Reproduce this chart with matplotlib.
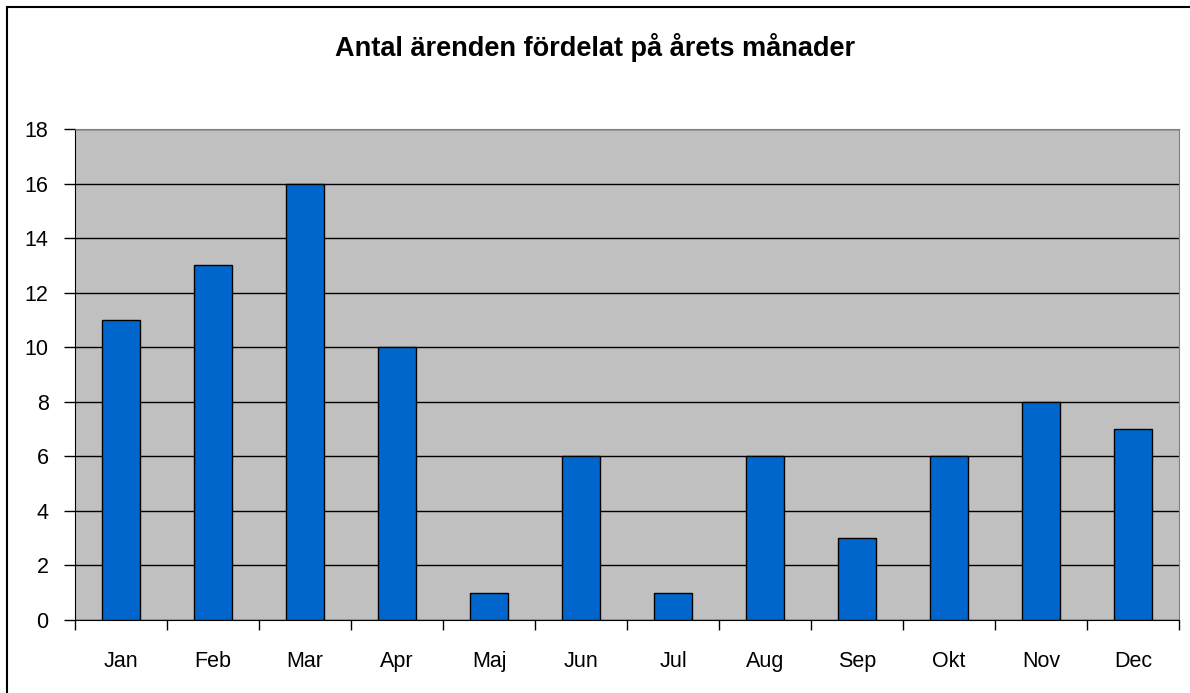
import numpy as np
import matplotlib.pyplot as plt
from matplotlib.patches import Rectangle

# data
manader = ["Jan", "Feb", "Mar", "Apr", "Maj", "Jun", "Jul", "Aug", "Sep", "Okt", "Nov", "Dec"]
antal = [11, 13, 16, 10, 1, 6, 1, 6, 3, 6, 8, 7]
y_ticks = [0, 2, 4, 6, 8, 10, 12, 14, 16, 18]

plt.rcParams['font.family'] = ['Liberation Sans', 'DejaVu Sans']

W, H = 1190, 693
fig = plt.figure(figsize=(W / 100, H / 100), dpi=100)

# outer frame, only left and top edges are visible in the picture
fig.patches.append(Rectangle((7 / W, -0.5), 1.5, 1.5 - 7 / H, transform=fig.transFigure,
                             fill=False, edgecolor='black', linewidth=1.5))

ax = fig.add_axes([75 / W, 1 - 620 / H, (1179 - 75) / W, (620 - 129) / H])
ax.set_facecolor('#C0C0C0')

x = np.arange(len(manader))
ax.bar(x, antal, width=0.41, color='#0066CC', edgecolor='black', linewidth=1, zorder=3)

ax.set_xlim(-0.5, len(manader) - 0.5)
ax.set_ylim(0, 18)
ax.set_yticks(y_ticks)
ax.yaxis.grid(True, color='black', linewidth=1, zorder=0)
ax.set_axisbelow(True)

# category ticks sit between the bars
ax.set_xticks(np.arange(len(manader) + 1) - 0.5)
ax.set_xticklabels([])
ax.set_xticks(x, minor=True)
ax.set_xticklabels(manader, minor=True)
ax.tick_params(axis='x', which='minor', length=0, pad=22, labelsize=15.5)
ax.tick_params(axis='x', which='major', length=7, width=1, direction='out')
ax.tick_params(axis='y', length=8, width=1, direction='out', pad=11, labelsize=15.5)

for s in ['top', 'right']:
    ax.spines[s].set_color('#808080')
ax.spines['left'].set_color('black')
ax.spines['bottom'].set_color('black')

fig.text(0.5, 1 - 48 / H, "Antal ärenden fördelat på årets månader",
         ha='center', va='center', fontsize=19.5, fontweight='bold')

fig.savefig("out.png", dpi=100)
